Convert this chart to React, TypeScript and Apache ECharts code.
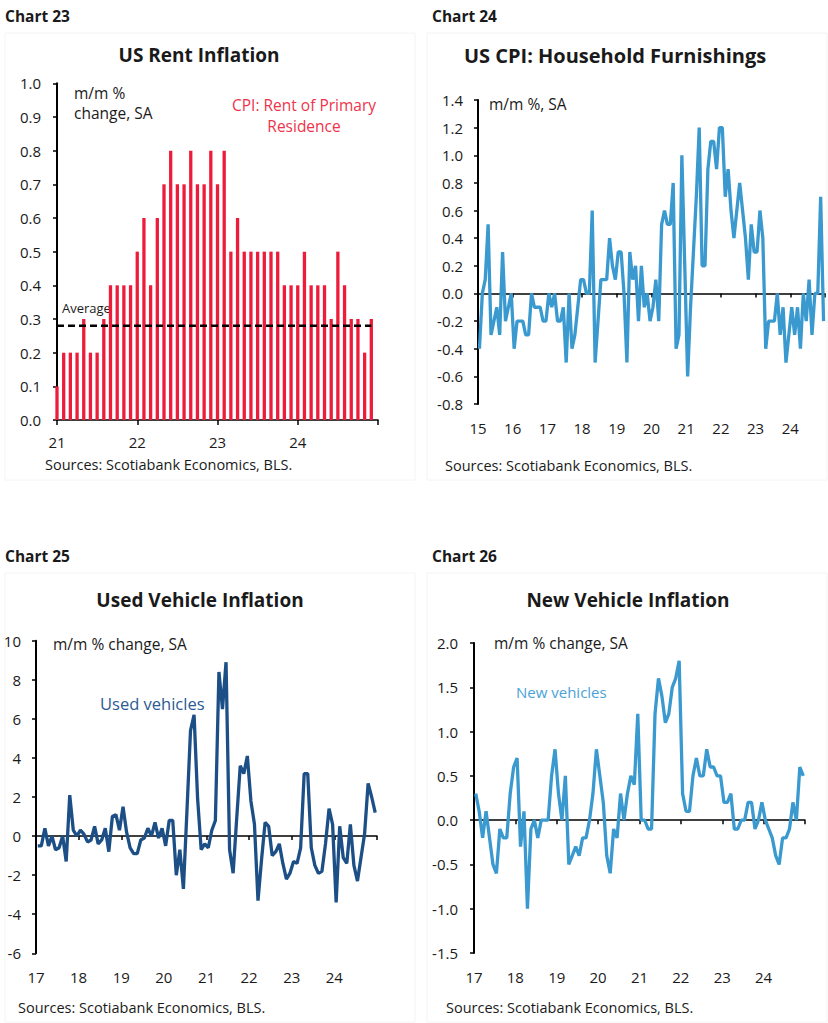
import { useEffect, useRef } from 'react';
import * as echarts from 'echarts';

// Chart 23 – CPI rent of primary residence, m/m %, Jan 2021 .. Dec 2024
const RENT = [
  0.1, 0.2, 0.2, 0.2, 0.3, 0.2, 0.2, 0.3, 0.4, 0.4, 0.4, 0.4,
  0.5, 0.6, 0.4, 0.6, 0.7, 0.8, 0.7, 0.7, 0.8, 0.7, 0.7, 0.8,
  0.7, 0.8, 0.5, 0.6, 0.5, 0.5, 0.5, 0.5, 0.5, 0.5, 0.4, 0.4,
  0.4, 0.5, 0.4, 0.4, 0.4, 0.3, 0.5, 0.4, 0.3, 0.3, 0.2, 0.3,
];
const RENT_AVG = 0.28;
const RENT_YEARS = ['21', '22', '23', '24'];

// Chart 24 – household furnishings, m/m %, Jan 2015 .. Dec 2024
const FURN = [
  -0.4, 0.0, 0.1, 0.5, -0.3, -0.2, -0.1, -0.3, 0.3, -0.2, -0.1, 0.0,
  -0.4, -0.2, -0.2, -0.2, -0.3, -0.3, 0.0, -0.1, -0.1, -0.1, -0.2, -0.2,
  0.0, -0.1, 0.0, -0.2, -0.2, -0.1, -0.5, 0.0, -0.4, -0.3, -0.1, 0.1,
  0.1, 0.0, 0.0, 0.6, -0.5, -0.2, 0.1, 0.1, 0.1, 0.4, 0.2, 0.1,
  0.3, 0.3, 0.0, -0.5, 0.3, 0.1, 0.2, -0.2, 0.2, -0.1, 0.0, -0.2,
  -0.1, 0.1, -0.2, 0.5, 0.6, 0.5, 0.5, 0.8, -0.4, -0.3, 1.0, 0.2,
  -0.6, -0.1, 0.3, 0.7, 1.2, 0.2, 0.2, 0.9, 1.1, 1.1, 0.9, 1.2,
  1.2, 0.7, 0.9, 0.6, 0.4, 0.6, 0.8, 0.6, 0.4, 0.1, 0.5, 0.3,
  0.3, 0.6, 0.4, -0.4, -0.2, -0.2, -0.2, 0.0, -0.3, -0.1, -0.5, -0.3,
  -0.1, -0.3, -0.1, -0.4, 0.0, -0.2, 0.1, -0.3, 0.0, 0.0, 0.7, -0.2,
];
const FURN_YEARS = ['15', '16', '17', '18', '19', '20', '21', '22', '23', '24'];

// Chart 25 – used vehicles, m/m %, Jan 2017 .. Dec 2024
const USED = [
  -0.5, -0.5, 0.4, -0.5, 0.0, -0.7, -0.6, 0.0, -1.3, 2.1, 0.3, 0.0,
  0.3, 0.1, -0.3, -0.2, 0.5, -0.4, -0.2, 0.4, -0.8, 1.0, 1.1, 0.3,
  1.5, 0.2, -0.6, -0.9, -0.9, -0.2, -0.1, 0.4, 0.0, 0.7, -0.1, 0.4,
  -0.5, 0.8, 0.8, -2.0, -0.7, -2.7, 1.3, 5.4, 6.2, 1.9, -0.7, -0.4,
  -0.6, 0.3, 0.8, 8.4, 6.5, 8.9, -0.7, -1.9, 0.9, 3.6, 3.2, 4.1,
  1.8, 0.6, -3.3, -1.2, 0.7, 0.5, -1.0, -0.8, -0.4, -1.4, -2.2, -1.9,
  -1.3, -1.4, -0.6, 3.2, 3.2, -0.6, -1.5, -1.9, -1.8, -0.4, 1.4, 0.6,
  -3.4, 0.5, -1.1, -1.4, 0.6, -1.5, -2.3, -1.1, 0.1, 2.7, 2.0, 1.2,
];

// Chart 26 – new vehicles, m/m %, Jan 2017 .. Dec 2024
const NEW = [
  0.3, 0.1, -0.2, 0.1, -0.2, -0.5, -0.6, -0.1, -0.2, -0.2, 0.3, 0.6,
  0.7, -0.3, 0.1, -1.0, -0.1, 0.0, -0.2, 0.0, 0.0, 0.0, 0.5, 0.8,
  0.3, 0.0, 0.5, -0.5, -0.4, -0.3, -0.4, -0.2, -0.2, 0.0, 0.3, 0.8,
  0.5, 0.2, -0.4, -0.6, -0.1, -0.2, 0.3, 0.0, 0.3, 0.5, 0.4, 1.2,
  0.0, 0.0, -0.1, -0.1, 1.2, 1.6, 1.4, 1.1, 1.2, 1.5, 1.6, 1.8,
  0.3, 0.1, 0.1, 0.5, 0.7, 0.5, 0.5, 0.8, 0.6, 0.6, 0.5, 0.5,
  0.2, 0.2, 0.3, -0.1, -0.1, 0.0, 0.0, 0.2, 0.2, -0.1, 0.0, 0.2,
  0.0, -0.1, -0.2, -0.4, -0.5, -0.2, -0.2, -0.1, 0.2, 0.0, 0.6, 0.5,
];
const VEH_YEARS = ['17', '18', '19', '20', '21', '22', '23', '24'];

const FONT = '"Open Sans", "Noto Sans", sans-serif';
const RED = '#ee1c3b';
const BLUE = '#3a99cf';
const NAVY = '#1d4f87';
const INK = '#1a1a1a';
const SOURCE = 'Sources: Scotiabank Economics, BLS.';
const TICK_FONT = 15;

const yAxisBase = (gridIndex: number, min: number, max: number, interval: number, digits: number, margin: number) => ({
  type: 'value',
  gridIndex,
  min,
  max,
  interval,
  splitLine: { show: false },
  axisLine: { show: true, onZero: false, lineStyle: { color: '#000', width: 2 } },
  axisTick: { show: true, length: 4, lineStyle: { color: '#000', width: 1.5 } },
  axisLabel: {
    margin,
    color: INK,
    fontSize: TICK_FONT,
    fontFamily: FONT,
    formatter: (v: number) => v.toFixed(digits),
  },
});

const zeroAxis = (gridIndex: number, max: number) => ({
  type: 'value',
  gridIndex,
  min: 0,
  max,
  interval: 12,
  position: 'bottom',
  splitLine: { show: false },
  axisLine: { show: true, onZero: true, lineStyle: { color: '#000', width: 1.5 } },
  axisTick: { show: true, length: 4, lineStyle: { color: '#000', width: 1.5 } },
  axisLabel: { show: false },
});

const labelAxis = (gridIndex: number, max: number, years: string[]) => ({
  type: 'value',
  gridIndex,
  min: 0,
  max,
  interval: 12,
  position: 'bottom',
  splitLine: { show: false },
  axisLine: { show: false, onZero: false },
  axisTick: { show: false },
  axisLabel: {
    margin: 16,
    color: INK,
    fontSize: TICK_FONT,
    fontFamily: FONT,
    formatter: (v: number) => years[v / 12] ?? '',
  },
});

function txt(x: number, y: number, text: string, opts: any = {}) {
  return {
    type: 'text',
    x,
    y,
    silent: true,
    style: {
      text,
      fill: opts.fill ?? INK,
      fontSize: opts.size ?? 15.5,
      fontWeight: opts.bold ? 'bold' : 'normal',
      fontFamily: FONT,
      textAlign: opts.align ?? 'left',
      textVerticalAlign: 'middle',
    },
  };
}

function frame(x: number, y: number, width: number, height: number) {
  return {
    type: 'rect',
    silent: true,
    shape: { x, y, width, height },
    style: { fill: 'none', stroke: '#f4f4f4', lineWidth: 1 },
  };
}

export default function App() {
  const ref = useRef<HTMLDivElement>(null);

  useEffect(() => {
    if (!ref.current) return;
    const chart = echarts.init(ref.current, undefined, { renderer: 'svg' });

    const option: any = {
      animation: false,
      backgroundColor: '#fff',
      grid: [
        { left: 57, top: 83.3, width: 321, height: 336.7 },
        { left: 478, top: 100, width: 347, height: 304 },
        { left: 36, top: 640.7, width: 341, height: 312.6 },
        { left: 474, top: 643, width: 331, height: 310 },
      ],
      xAxis: [
        {
          type: 'value',
          gridIndex: 0,
          min: 0,
          max: RENT.length,
          interval: 12,
          splitLine: { show: false },
          axisLine: { show: true, lineStyle: { color: '#000', width: 1.5 } },
          axisTick: { show: true, length: 5, lineStyle: { color: '#000', width: 1.5 } },
          axisLabel: {
            margin: 14,
            color: INK,
            fontSize: TICK_FONT,
            fontFamily: FONT,
            formatter: (v: number) => RENT_YEARS[v / 12] ?? '',
          },
        },
        zeroAxis(1, FURN.length),
        labelAxis(1, FURN.length, FURN_YEARS),
        zeroAxis(2, USED.length),
        labelAxis(2, USED.length, VEH_YEARS),
        zeroAxis(3, NEW.length),
        labelAxis(3, NEW.length, VEH_YEARS),
      ],
      yAxis: [
        yAxisBase(0, 0, 1, 0.1, 1, 16),
        yAxisBase(1, -0.8, 1.4, 0.2, 1, 15),
        yAxisBase(2, -6, 10, 2, 0, 15),
        yAxisBase(3, -1.5, 2, 0.5, 1, 16),
      ],
      series: [
        {
          type: 'bar',
          xAxisIndex: 0,
          yAxisIndex: 0,
          barWidth: 3.3,
          data: RENT.map((v, i) => [i, v]),
          itemStyle: { color: RED },
          silent: true,
        },
        {
          type: 'line',
          xAxisIndex: 0,
          yAxisIndex: 0,
          data: RENT.map((_, i) => [i, RENT_AVG]),
          symbol: 'none',
          lineStyle: { color: '#000', width: 2.5, type: [7, 4] },
          z: 5,
          silent: true,
        },
        {
          type: 'line',
          xAxisIndex: 1,
          yAxisIndex: 1,
          data: FURN.map((v, i) => [i + 0.5, v]),
          symbol: 'none',
          lineStyle: { color: BLUE, width: 3.3 },
          silent: true,
        },
        {
          type: 'line',
          xAxisIndex: 3,
          yAxisIndex: 2,
          data: USED.map((v, i) => [i + 0.5, v]),
          symbol: 'none',
          lineStyle: { color: NAVY, width: 3.3 },
          silent: true,
        },
        {
          type: 'line',
          xAxisIndex: 5,
          yAxisIndex: 3,
          data: NEW.map((v, i) => [i + 0.5, v]),
          symbol: 'none',
          lineStyle: { color: BLUE, width: 3.3 },
          silent: true,
        },
      ],
      graphic: [
        frame(5, 33, 410, 447),
        frame(427, 33, 400, 447),
        frame(5, 573, 410, 449),
        frame(427, 573, 400, 449),

        txt(5, 16, 'Chart 23', { bold: true, size: 15.5 }),
        txt(432, 16, 'Chart 24', { bold: true, size: 15.5 }),
        txt(5, 556, 'Chart 25', { bold: true, size: 15.5 }),
        txt(432, 556, 'Chart 26', { bold: true, size: 15.5 }),

        txt(199, 55, 'US Rent Inflation', { bold: true, size: 19, align: 'center' }),
        txt(615, 55, 'US CPI: Household Furnishings', { bold: true, size: 20, align: 'center' }),
        txt(200, 600, 'Used Vehicle Inflation', { bold: true, size: 19, align: 'center' }),
        txt(628, 600, 'New Vehicle Inflation', { bold: true, size: 19, align: 'center' }),

        txt(74, 93, 'm/m %'),
        txt(74, 113, 'change, SA'),
        txt(304, 105, 'CPI: Rent of Primary', { fill: '#f0334b', align: 'center' }),
        txt(304, 126, 'Residence', { fill: '#f0334b', align: 'center' }),
        txt(62, 308, 'Average', { size: 13 }),

        txt(489, 104, 'm/m %, SA'),
        txt(53, 644, 'm/m % change, SA'),
        txt(100, 703, 'Used vehicles', { fill: '#2b5a94', size: 16.5 }),
        txt(494, 643, 'm/m % change, SA'),
        txt(516, 692, 'New vehicles', { fill: '#4aa3d8', size: 15 }),

        txt(45, 464, SOURCE, { size: 14.5 }),
        txt(445, 465, SOURCE, { size: 14.5 }),
        txt(18, 1007, SOURCE, { size: 14.5 }),
        txt(446, 1007, SOURCE, { size: 14.5 }),
      ],
    };

    chart.setOption(option);
    return () => chart.dispose();
  }, []);

  return (
    <div
      ref={ref}
      style={{ position: 'absolute', left: 0, top: 0, width: 828, height: 1023, background: '#fff' }}
    />
  );
}
